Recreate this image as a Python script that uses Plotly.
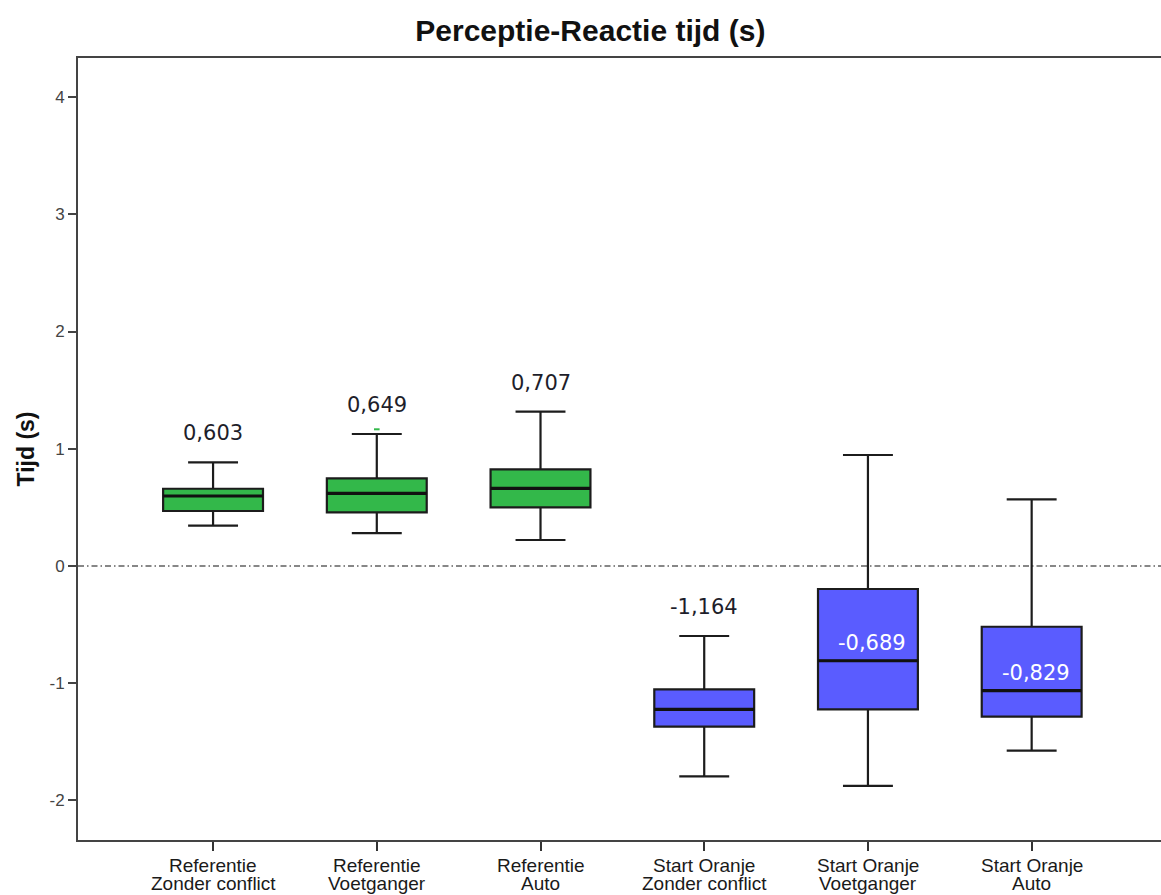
import plotly.graph_objects as go

# Conditions: first and second line of each category label
label_top = ["Referentie", "Referentie", "Referentie",
             "Start Oranje", "Start Oranje", "Start Oranje"]
label_bottom = ["Zonder conflict", "Voetganger", "Auto",
                "Zonder conflict", "Voetganger", "Auto"]

# Box statistics (seconds)
whisker_low = [0.344, 0.281, 0.222, -1.794, -1.876, -1.575]
q1 = [0.469, 0.458, 0.500, -1.370, -1.222, -1.285]
median = [0.597, 0.620, 0.662, -1.222, -0.808, -1.063]
q3 = [0.659, 0.748, 0.825, -1.052, -0.196, -0.518]
whisker_high = [0.884, 1.126, 1.316, -0.597, 0.947, 0.569]

# Mean values printed on the chart
means = [0.603, 0.649, 0.707, -1.164, -0.689, -0.829]
mean_labels = ["0,603", "0,649", "0,707", "-1,164", "-0,689", "-0,829"]

# Single outlier above the whisker of "Referentie Voetganger"
outlier_x = [1]
outlier_y = [1.166]

# Y ticks (plain hyphen for negatives)
y_tickvals = [-2, -1, 0, 1, 2, 3, 4]
y_ticktext = ["-2", "-1", "0", "1", "2", "3", "4"]

green = "#33b84a"
blue = "#5a5cff"
fills = [green, green, green, blue, blue, blue]
edge = "#1c1c1c"
box_w = 0.61
n = len(label_top)

fig = go.Figure()
for i in range(n):
    fig.add_trace(go.Box(
        x=[i],
        q1=[q1[i]], median=[median[i]], q3=[q3[i]],
        lowerfence=[whisker_low[i]], upperfence=[whisker_high[i]],
        fillcolor=fills[i],
        line=dict(color=edge, width=2.2),
        width=box_w,
        whiskerwidth=0.5,
        boxpoints=False,
        showlegend=False,
        hoverinfo="skip",
    ))

fig.add_trace(go.Scatter(
    x=outlier_x, y=outlier_y, mode="markers",
    marker=dict(color=green, size=4, symbol="line-ew",
                line=dict(color=green, width=2)),
    showlegend=False, hoverinfo="skip",
))

shapes = []
# Thicker median lines
for i, m in enumerate(median):
    shapes.append(dict(type="line", xref="x", yref="y",
                       x0=i - box_w / 2, x1=i + box_w / 2, y0=m, y1=m,
                       line=dict(color="#111111", width=3.2)))
# Dash-dot reference line at zero
shapes.append(dict(type="line", xref="paper", yref="y", x0=0, x1=1, y0=0, y1=0,
                   line=dict(color="#111111", width=1.2, dash="6px,3px,1.5px,3px"),
                   layer="below"))

annotations = []
for i, lab in enumerate(mean_labels):
    inside = i >= 4
    annotations.append(dict(
        x=i, xref="x", yref="y",
        y=median[i] if inside else whisker_high[i],
        yshift=18 if inside else 29,
        text=lab, showarrow=False, yanchor="middle",
        xshift=4 if inside else 0,
        font=dict(family="DejaVu Sans", size=21,
                  color="#ffffff" if inside else "#1e1e2a"),
    ))

# Category labels, two tightly spaced lines under each tick
for i in range(n):
    for text, shift in ((label_top[i], -25), (label_bottom[i], -43)):
        annotations.append(dict(
            x=i, xref="x", y=0, yref="paper", yanchor="middle", yshift=shift,
            text=text, showarrow=False,
            font=dict(family="Liberation Sans", size=19, color="#1a1a1a"),
        ))

fig.update_layout(
    width=1161, height=895,
    margin=dict(l=78, r=0, t=58, b=55),
    paper_bgcolor="white", plot_bgcolor="white",
    title=dict(text="<b>Perceptie-Reactie tijd (s)</b>", x=0.5085, xanchor="center",
               y=0.966, yanchor="middle",
               font=dict(family="Liberation Sans", size=30, color="#111111")),
    shapes=shapes, annotations=annotations,
    xaxis=dict(
        range=[-0.825, 5.79],
        tickmode="array", tickvals=list(range(n)), showticklabels=False,
        showline=True, linecolor="#444444", linewidth=2, mirror=True,
        ticks="outside", ticklen=9, tickwidth=1.5, tickcolor="#333333",
        showgrid=False, zeroline=False, automargin=False,
    ),
    yaxis=dict(
        range=[-2.337, 4.333],
        tickmode="array", tickvals=y_tickvals, ticktext=y_ticktext,
        showline=True, linecolor="#444444", linewidth=2,
        ticks="outside", ticklen=8, tickwidth=1.5, tickcolor="#444444",
        showgrid=False, zeroline=False, automargin=False,
        tickfont=dict(family="Liberation Sans", size=17, color="#444444"),
        title=dict(text="<b>Tijd (s)</b>", standoff=8,
                   font=dict(family="Liberation Sans", size=23, color="#111111")),
    ),
)

fig.write_html("out.html")
